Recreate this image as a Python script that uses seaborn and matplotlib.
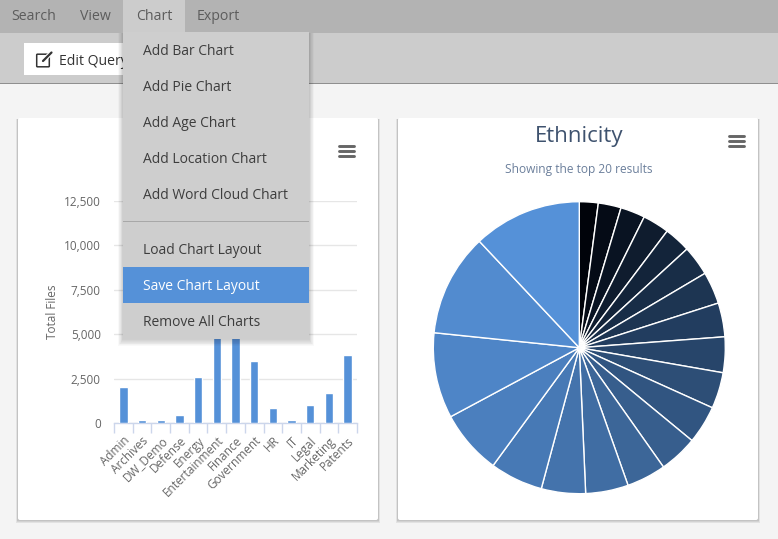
import numpy as np
import matplotlib
matplotlib.use('Agg')
import matplotlib.pyplot as plt
from matplotlib.patches import Rectangle, FancyBboxPatch
import pandas as pd
import seaborn as sns

# bar chart, Entertainment and Finance tops are behind the menu so those two are guesses
departments = ['Admin', 'Archives', 'DW_Demo', 'Defense', 'Energy', 'Entertainment', 'Finance',
               'Government', 'HR', 'IT', 'Legal', 'Marketing', 'Patents']
total_files = [2020, 160, 160, 440, 2580, 5600, 5400, 3480, 830, 160, 1000, 1690, 3820]
y_ticks = [0, 2500, 5000, 7500, 10000, 12500]

# pie slices, read as degrees clockwise from the top
ethnicity_shares = [7.5, 9.1, 9.8, 10.6, 10.5, 11.9, 12.8, 13.5, 14.2, 14.4,
                    15.2, 15.3, 15.7, 17.0, 17.6, 21.1, 25.6, 34.1, 40.9, 43.2]

top_menu = ['Search', 'View', 'Chart', 'Export']
top_menu_x = [11, 80, 136, 197]
chart_menu = ['Add Bar Chart', 'Add Pie Chart', 'Add Age Chart', 'Add Location Chart', 'Add Word Cloud Chart',
              'Load Chart Layout', 'Save Chart Layout', 'Remove All Charts']
chart_menu_y = [55, 91, 127, 163, 199, 254, 290, 326]

W, H = 778, 539
BLUE = '#5591d8'

sns.set_theme(style='white')
plt.rcParams['font.family'] = ['Open Sans', 'DejaVu Sans']

fig = plt.figure(figsize=(W / 100, H / 100), dpi=100)
fig.patch.set_facecolor('#f4f4f4')


def pixel_axes(z):
    a = fig.add_axes([0, 0, 1, 1], zorder=z)
    a.set_xlim(0, W)
    a.set_ylim(H, 0)
    a.axis('off')
    a.patch.set_alpha(0)
    return a


def shadow(a, x, y, w, h, spread=6, alpha=0.035, z=1):
    for i in range(spread, 0, -1):
        a.add_patch(Rectangle((x - i * 0.6, y + 1), w + i * 1.2, h - 1 + i * 0.9, color='black',
                              alpha=alpha, lw=0, zorder=z))


def hamburger(a, x0, x1, y0, z=5):
    for k in range(3):
        a.plot([x0 + 1, x1 - 1], [y0 + 1.5 + k * 4.8] * 2, color='#666666', lw=2.1,
               solid_capstyle='round', zorder=z)


bg = pixel_axes(0)
bg.add_patch(Rectangle((0, 0), W, 33, color='#b3b3b3', lw=0))
bg.add_patch(Rectangle((0, 33), W, 50, color='#cccccc', lw=0))
bg.add_patch(Rectangle((0, 83), W, 1.3, color='#8f8f8f', lw=0))

# cards
for cx in [18, 398]:
    shadow(bg, cx, 118, 360, 402, spread=3, alpha=0.07)
    bg.add_patch(FancyBboxPatch((cx + 2, 120), 356, 398, boxstyle='round,pad=2', color='white', lw=0, zorder=2))

# top bar text and button
bg.add_patch(Rectangle((123, 0), 62, 33, color='#cccccc', lw=0))
for s, x in zip(top_menu, top_menu_x):
    bg.text(x, 20, s, fontsize=10.2, color='#5c5c5c', va='baseline')
bg.add_patch(Rectangle((24, 43), 110, 32, color='white', lw=0))
bg.text(59, 65, 'Edit Query', fontsize=10.1, color='#333333', va='baseline')
bg.add_patch(FancyBboxPatch((37.5, 55), 11, 11, boxstyle='round,pad=0.8', fc='none', ec='#333333', lw=1.1))
bg.plot([43, 51], [61, 53], color='white', lw=3.2)
bg.plot([43, 51.5], [61, 52.5], color='#333333', lw=1.6)

# bars
ax = fig.add_axes([114 / W, 1 - 423 / H, 243 / W, 222 / H], zorder=1)
ax.patch.set_alpha(0)
df = pd.DataFrame({'department': departments, 'files': total_files})
sns.barplot(data=df, x='department', y='files', color=BLUE, saturation=1, width=0.45, ax=ax, zorder=3)
ax.set_xlim(-0.5, len(departments) - 0.5)
ax.set_ylim(0, 12500)
ax.set_yticks(y_ticks)
ax.set_yticklabels([f'{v:,}' for v in y_ticks], fontsize=8.5, color='#666666')
ax.grid(axis='y', color='#e6e6e6', lw=1)
ax.set_axisbelow(True)
ax.tick_params(axis='y', length=0, pad=9.5)
ax.set_xticks(np.arange(len(departments)))
ax.set_xticklabels(departments, rotation=45, ha='right', rotation_mode='anchor', fontsize=8.5, color='#666666')
ax.set_xticks(np.arange(len(departments) + 1) - 0.5, minor=True)
ax.tick_params(axis='x', which='major', length=0, pad=8)
ax.tick_params(axis='x', which='minor', length=7, width=1, color='#ccd6eb', bottom=True)
ax.set_xlabel('')
ax.set_ylabel('')
sns.despine(ax=ax, left=True, top=True, right=True)
ax.spines['bottom'].set_color('#ccd6eb')
ax.spines['bottom'].set_linewidth(1)
bg.text(52.5, 312, 'Total Files', rotation=90, fontsize=8.5, color='#666666', ha='center', va='center', zorder=5)

# pie
R = 146
pie_cx, pie_cy = 579.3, 347.7
pax = fig.add_axes([(pie_cx - R) / W, 1 - (pie_cy + R) / H, 2 * R / W, 2 * R / H], zorder=1)
pie_colors = sns.blend_palette(['#00030a', '#1f3857', '#3f6ba0', BLUE], n_colors=len(ethnicity_shares))
pax.pie(ethnicity_shares, colors=pie_colors, startangle=90, counterclock=False, radius=1,
        wedgeprops={'edgecolor': 'white', 'linewidth': 1})
pax.set_xlim(-1, 1)
pax.set_ylim(-1, 1)

bg.text(579, 136.5, 'Ethnicity', fontsize=16, color='#3e526e', ha='center', va='center', zorder=5)
bg.text(579, 169.5, 'Showing the top 20 results', fontsize=8.55, color='#6b7f9b', ha='center', va='center', zorder=5)
hamburger(bg, 338, 355, 144.5)
hamburger(bg, 728, 745, 134.5)

# dropdown sits over everything
top = pixel_axes(3)
shadow(top, 123, 32, 186, 307, spread=8, alpha=0.025)
top.add_patch(Rectangle((123, 32), 186, 307, color='#cecece', lw=0, zorder=2))
top.add_patch(Rectangle((123, 267), 186, 36, color=BLUE, lw=0, zorder=3))
top.add_patch(Rectangle((123, 220.5), 186, 1.2, color='#a8a8a8', lw=0, zorder=3))
for s, y in zip(chart_menu, chart_menu_y):
    c = 'white' if s == 'Save Chart Layout' else '#3d3d3d'
    top.text(143, y, s, fontsize=10, color=c, va='baseline', zorder=4)

fig.savefig('out.png', dpi=100)
